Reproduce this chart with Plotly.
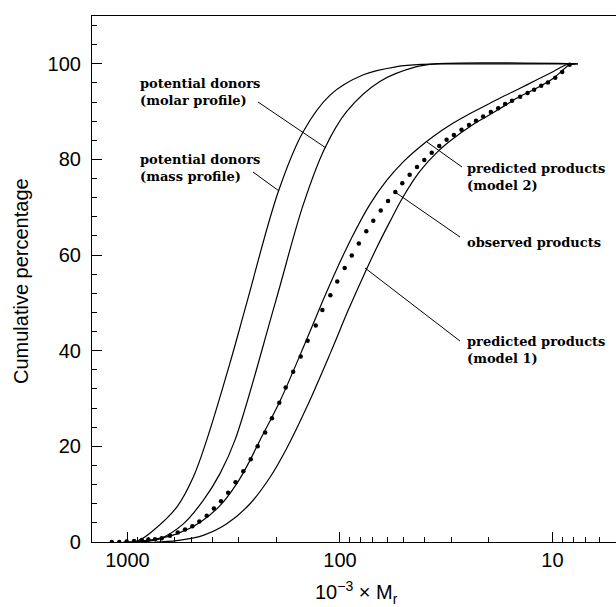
import plotly.graph_objects as go

# ---- data (x = 10^-3 x Mr, y = cumulative percentage) ----
mass_x = [1047, 889, 757, 586, 490, 424, 330, 275, 195, 149, 111, 77.6, 54.1, 40.6, 31.6, 7.6]
mass_y = [0.0, 0.3, 2.4, 7.3, 13.6, 21.3, 37.3, 49.9, 73.3, 85.8, 93.5, 97.7, 99.4, 99.9, 100.0, 100.0]

molar_x = [891, 703, 546, 440, 367, 312, 202, 149, 118, 93.1, 64.9, 43.6, 35.7, 7.6]
molar_y = [0.0, 0.7, 3.8, 8.7, 14.3, 21.3, 49.9, 70.5, 82.3, 90.0, 96.3, 99.4, 100.0, 100.0]

model2_x = [933, 873, 757, 586, 456, 367, 306, 265, 238, 191, 144, 120, 104, 86.5, 72.3,
            60.3, 50.4, 42.1, 36.4, 29.3, 24.4, 20.4, 17.0, 14.2, 11.9, 9.9, 8.6, 7.9]
model2_y = [0.0, 0.2, 0.5, 1.7, 4.1, 7.6, 12.2, 17.1, 21.3, 29.6, 42.2, 50.6, 56.9, 64.3, 70.6,
            75.6, 79.5, 82.6, 84.8, 87.6, 89.6, 91.4, 93.2, 94.9, 96.6, 98.4, 99.8, 100.0]

model1_x = [741, 586, 440, 341, 265, 213, 179, 144, 111, 91.4, 77.6, 67.1, 58.2,
            50.4, 42.1, 34.4, 29.3, 24.4, 20.4, 17.0, 14.2, 11.9, 9.9, 8.3, 7.8]
model1_y = [0.0, 0.3, 1.4, 3.8, 8.0, 13.6, 19.4, 28.0, 39.5, 48.5, 55.6, 61.6, 67.0,
            72.2, 77.5, 81.8, 84.4, 86.9, 89.0, 91.1, 93.2, 94.9, 97.0, 99.8, 100.0]

obs_x = [1186, 1093, 1009, 931, 857, 798, 742, 690, 631, 580, 536, 495, 459, 424, 392, 363,
         336, 310, 285, 263, 244, 225, 209, 193, 180, 166, 153, 142, 130, 121, 111, 103,
         95, 88, 81.5, 75.2, 69.7, 64.3, 59.4, 54.9, 50.9, 47.0, 43.4, 40.1, 37.0, 34.1,
         31.5, 29.1, 26.8, 24.7, 22.9, 21.2, 19.5, 18.0, 16.7, 15.5, 14.2, 13.1, 12.2, 11.3,
         10.5, 9.7, 9.0, 8.3]
obs_y = [0.0, 0.0, 0.1, 0.2, 0.4, 0.5, 0.6, 0.8, 1.3, 2.0, 2.6, 3.3, 4.3, 5.5, 7.0, 8.5,
         10.3, 12.5, 14.8, 17.3, 20.0, 22.9, 25.9, 29.1, 32.3, 35.6, 38.8, 42.1, 45.3, 48.5,
         51.6, 54.5, 57.3, 59.9, 62.4, 65.0, 67.2, 69.3, 71.3, 73.2, 75.0, 76.8, 78.4, 79.9,
         81.4, 82.8, 84.1, 85.1, 86.2, 87.2, 88.1, 89.0, 89.9, 90.7, 91.6, 92.3, 93.1, 93.9,
         94.6, 95.4, 96.1, 97.1, 98.3, 99.8]

y_ticks = [0, 20, 40, 60, 80, 100]
x_ticks = [1000, 100, 10]
x_ticktext = ["1000", "100", "10"]

labels = [
    ("potential donors<br>(molar profile)", 138, 92),
    ("potential donors<br>(mass profile)", 138, 168),
    ("predicted products<br>(model 2)", 465, 177),
    ("observed products", 465, 243),
    ("predicted products<br>(model 1)", 465, 350),
]
pointers = [
    (258, 102, 326, 148),
    (253, 172, 279, 191),
    (427, 142, 462, 167),
    (395, 192, 460, 237),
    (365, 268, 460, 341),
]

# ---- layout geometry ----
W, H = 616, 607
L, R, T, B = 92, 0, 16, 65
PW, PH = W - L - R, H - T - B


def paper(px, py):
    return (px - L) / PW, (H - B - py) / PH


fig = go.Figure()
line = dict(color="black", width=1.2, shape="spline", smoothing=1.0)
for xs, ys in [(mass_x, mass_y), (molar_x, molar_y), (model2_x, model2_y), (model1_x, model1_y)]:
    fig.add_trace(go.Scatter(x=xs, y=ys, mode="lines", line=line, showlegend=False, hoverinfo="skip"))
fig.add_trace(go.Scatter(x=obs_x, y=obs_y, mode="markers",
                         marker=dict(color="black", size=4.5), showlegend=False))

ann = []
for text, px, py in labels:
    x, y = paper(px, py)
    ann.append(dict(text="<b>" + text.replace("<br>", "</b><br><b>") + "</b>", x=x, y=y,
                    xref="paper", yref="paper", xanchor="left",
                    yanchor="middle", align="left", showarrow=False,
                    font=dict(family="DejaVu Serif", size=13, color="black")))
tx, ty = paper(21, 281)
ann.append(dict(text="Cumulative percentage", x=tx, y=ty, xref="paper", yref="paper",
                textangle=-90, showarrow=False, xanchor="center", yanchor="middle",
                font=dict(family="Liberation Sans", size=20, color="black")))
tx, ty = paper(356, 592)
ann.append(dict(text="10<sup>−3</sup> × M<sub>r</sub>", x=tx, y=ty, xref="paper", yref="paper",
                showarrow=False, xanchor="center", yanchor="middle",
                font=dict(family="Liberation Sans", size=20, color="black")))

shapes = []
for x0, y0, x1, y1 in pointers:
    a0, b0 = paper(x0, y0)
    a1, b1 = paper(x1, y1)
    shapes.append(dict(type="line", xref="paper", yref="paper", x0=a0, y0=b0, x1=a1, y1=b1,
                       line=dict(color="black", width=1)))

fig.update_layout(
    width=W, height=H, margin=dict(l=L, r=R, t=T, b=B),
    paper_bgcolor="white", plot_bgcolor="white",
    annotations=ann, shapes=shapes, showlegend=False,
    font=dict(family="Liberation Sans", size=20, color="black"),
)
fig.update_xaxes(type="log", range=[3.167, 0.701], tickmode="array", tickvals=x_ticks,
                 ticktext=x_ticktext, ticks="inside", ticklen=10, tickwidth=1, tickcolor="black",
                 showline=True, linecolor="black", linewidth=1.2, mirror=True,
                 showgrid=False, zeroline=False,
                 minor=dict(dtick="D1", ticks="inside", ticklen=5, tickwidth=1,
                            tickcolor="black", showgrid=False),
                 tickfont=dict(family="Liberation Sans", size=20, color="black"))
fig.update_yaxes(range=[0, 110], tickmode="array", tickvals=y_ticks, ticks="inside", ticklen=10,
                 tickwidth=1, tickcolor="black", showline=True, linecolor="black", linewidth=1.2,
                 showgrid=False, zeroline=False, ticklabelstandoff=6,
                 minor=dict(dtick=4, tick0=0, ticks="inside", ticklen=5, tickwidth=1,
                            tickcolor="black", showgrid=False),
                 tickfont=dict(family="Liberation Sans", size=20, color="black"))

fig.write_html("out.html")
